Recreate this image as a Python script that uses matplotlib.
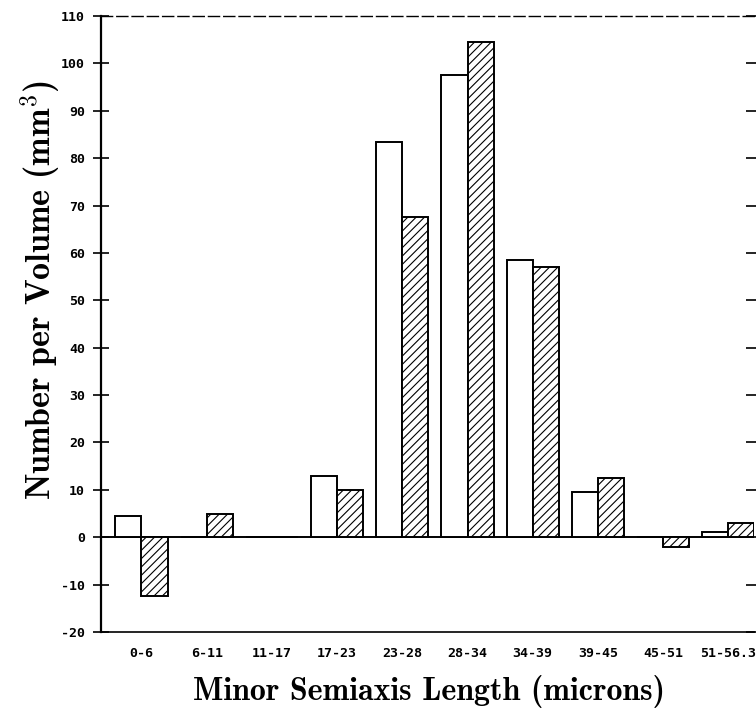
import matplotlib.pyplot as plt
import numpy as np

bins = ['0-6', '6-11', '11-17', '17-23', '23-28', '28-34', '34-39', '39-45', '45-51', '51-56.3']
open_vals = [4.5, 0, 0, 13, 83.5, 97.5, 58.5, 9.5, 0, 1]
hatched_vals = [-12.5, 5, 0, 10, 67.5, 104.5, 57, 12.5, -2, 3]

plt.rcParams['mathtext.fontset'] = 'cm'
plt.rcParams['hatch.linewidth'] = 0.8

x = np.arange(len(bins))
w = 0.4

fig = plt.figure(figsize=(7.56, 7.11), dpi=100)
ax = fig.add_axes([101 / 756, 1 - 632 / 711, 1 - 101 / 756 - 0.002, (632 - 16) / 711])

ax.bar(x - w / 2, open_vals, w, color='white', edgecolor='black', linewidth=1.4)
ax.bar(x + w / 2, hatched_vals, w, color='white', edgecolor='black', linewidth=1.4, hatch='////')
ax.axhline(0, color='black', linewidth=1.4, zorder=0)

ax.set_xlim(-0.62, 9.4)
ax.set_ylim(-20, 110)
ax.set_yticks(range(-20, 111, 10))
ax.set_yticklabels([str(v) for v in range(-20, 111, 10)],
                   family='DejaVu Sans Mono', fontweight='bold', fontsize=9.5)
ax.set_xticks(x)
ax.set_xticklabels(bins, family='DejaVu Sans Mono', fontweight='bold', fontsize=9.5)
ax.tick_params(axis='x', length=0, pad=11)
ax.tick_params(axis='y', direction='inout', length=11, width=1.2, pad=6, right=True)

ax.spines['left'].set_linewidth(1.6)
ax.spines['bottom'].set_linewidth(1.2)
ax.spines['right'].set_visible(False)
ax.spines['top'].set_linestyle((0, (8, 3)))
ax.spines['top'].set_linewidth(1.0)

fig.text(40 / 756, 1 - 290 / 711, 'Number per Volume (mm$^{3}$)', family='cmb10',
         fontsize=24.5, rotation=90, ha='center', va='center')
fig.text(429 / 756, 1 - 692 / 711, 'Minor Semiaxis Length (microns)', family='cmb10',
         fontsize=23, ha='center', va='center')

fig.savefig('out.png', dpi=100)
